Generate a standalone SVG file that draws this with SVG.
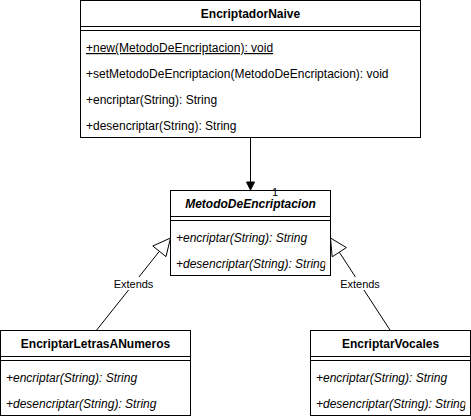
<svg xmlns="http://www.w3.org/2000/svg" width="471" height="420" viewBox="0 0 471 420">
<style>
text{font-family:"Liberation Sans",Arial,Helvetica,sans-serif;font-size:12px;fill:#000}
.t{font-weight:bold;text-anchor:middle}
.ti{font-weight:bold;font-style:italic;text-anchor:middle}
.i{font-style:italic}
.box{fill:#fff;stroke:#000;stroke-width:1}
.ln{stroke:#000;stroke-width:1;fill:none}
.lbl{font-size:11px;text-anchor:middle}
</style>
<defs>
<clipPath id="cm"><rect x="170" y="190" width="155.3" height="86"/></clipPath>
<clipPath id="cr"><rect x="310" y="330" width="155.3" height="87"/></clipPath>
</defs>
<g id="EncriptadorNaive">
<rect class="box" x="80.5" y="0.5" width="340" height="137"/>
<line class="ln" x1="80.5" y1="26.5" x2="420.5" y2="26.5"/>
<line class="ln" x1="80.5" y1="30.5" x2="420.5" y2="30.5"/>
<text x="250.5" y="18" class="t">EncriptadorNaive</text>
<text x="86" y="52" text-decoration="underline">+new(MetodoDeEncriptacion): void</text>
<text x="86" y="78">+setMetodoDeEncriptacion(MetodoDeEncriptacion): void</text>
<text x="86" y="104">+encriptar(String): String</text>
<text x="86" y="130">+desencriptar(String): String</text>
</g>
<g id="MetodoDeEncriptacion">
<rect class="box" x="170.5" y="190.5" width="160" height="85"/>
<line class="ln" x1="170.5" y1="216.5" x2="330.5" y2="216.5"/>
<line class="ln" x1="170.5" y1="220.5" x2="330.5" y2="220.5"/>
<text x="250.5" y="208" class="ti">MetodoDeEncriptacion</text>
<g clip-path="url(#cm)">
<text x="176" y="242" class="i">+encriptar(String): String</text>
<text x="176" y="268" class="i">+desencriptar(String): String</text>
</g>
</g>
<g id="EncriptarLetrasANumeros">
<rect class="box" x="0.5" y="330.5" width="190" height="85"/>
<line class="ln" x1="0.5" y1="356.5" x2="190.5" y2="356.5"/>
<line class="ln" x1="0.5" y1="360.5" x2="190.5" y2="360.5"/>
<text x="95.5" y="348" class="t">EncriptarLetrasANumeros</text>
<text x="6" y="382" class="i">+encriptar(String): String</text>
<text x="6" y="408" class="i">+desencriptar(String): String</text>
</g>
<g id="EncriptarVocales">
<rect class="box" x="310.5" y="330.5" width="160" height="85"/>
<line class="ln" x1="310.5" y1="356.5" x2="470.5" y2="356.5"/>
<line class="ln" x1="310.5" y1="360.5" x2="470.5" y2="360.5"/>
<text x="390.5" y="348" class="t">EncriptarVocales</text>
<g clip-path="url(#cr)">
<text x="316" y="382" class="i">+encriptar(String): String</text>
<text x="316" y="408" class="i">+desencriptar(String): String</text>
</g>
</g>
<g id="connectors">
<line class="ln" x1="250.5" y1="137.5" x2="250.5" y2="183"/>
<polygon points="246.5,182 254.5,182 250.5,190" fill="#000" stroke="#000"/>
<text x="275" y="196" class="lbl">1</text>
<line class="ln" x1="96.7" y1="330" x2="159.4" y2="251.3"/>
<polygon points="170.5,238 166,256.6 152.8,246" fill="#fff" stroke="#000"/>
<rect x="114" y="277" width="39" height="13" fill="#fff"/>
<text x="133.5" y="288" class="lbl">Extends</text>
<line class="ln" x1="390" y1="330" x2="339.3" y2="252.2"/>
<polygon points="330.5,238 346.4,247.6 332.2,256.8" fill="#fff" stroke="#000"/>
<rect x="340.5" y="277" width="39" height="13" fill="#fff"/>
<text x="360" y="288" class="lbl">Extends</text>
</g>
</svg>
